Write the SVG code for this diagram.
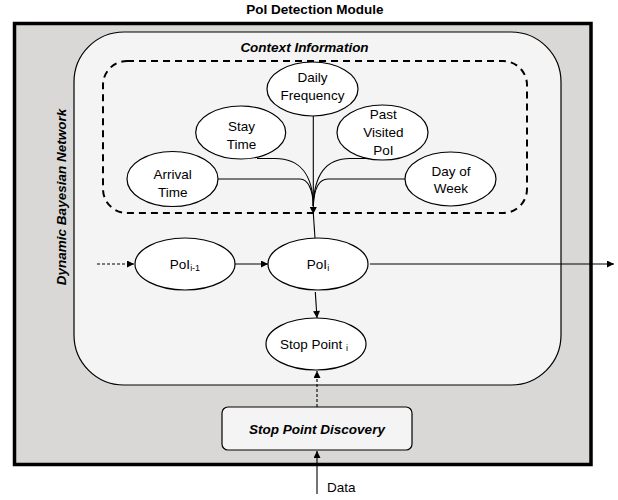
<svg xmlns="http://www.w3.org/2000/svg" width="618" height="500" viewBox="0 0 618 500">
<defs>
<style>
.t{font-family:"Liberation Sans",Arial,sans-serif;font-size:13.5px;fill:#000;text-anchor:middle}
.bi{font-weight:bold;font-style:italic}
.b{font-weight:bold}
.el{fill:#fff;stroke:#000;stroke-width:1.2}
.ln{fill:none;stroke:#000;stroke-width:1.1}
.sub{font-size:9px}
</style>
<marker id="ah" viewBox="0 0 10 10" refX="10" refY="5" markerWidth="8" markerHeight="7" markerUnits="userSpaceOnUse" orient="auto">
<path d="M0,0 L10,5 L0,10 z" fill="#000"/>
</marker>
</defs>
<rect width="618" height="500" fill="#fff"/>
<text class="t b" x="315" y="14" font-size="13">PoI Detection Module</text>
<g id="module">
<rect x="14.5" y="23.5" width="576.5" height="441" fill="#d9d8d6" stroke="#000" stroke-width="3.5"/>
</g>
<g id="dbn">
<rect x="74" y="32" width="487" height="353" rx="50" ry="50" fill="#f4f4f4" stroke="#000" stroke-width="1.2"/>
<text class="t bi" transform="translate(66,197) rotate(-90)" x="0" y="0">Dynamic Bayesian Network</text>
</g>
<g id="context">
<rect x="103" y="61" width="424" height="152" rx="24" ry="24" fill="none" stroke="#000" stroke-width="2" stroke-dasharray="7 5"/>
<text class="t bi" x="304.5" y="52">Context Information</text>
</g>
<g id="connectors">
<path class="ln" d="M257 158.5 H275 C300 158.5 313 175 313.3 206"/>
<path class="ln" d="M218 179 H300 C308 179 313 190 313.3 206"/>
<path class="ln" d="M371 158.5 H350 C326 158.5 314 175 313.3 206"/>
<path class="ln" d="M406 179 H328 C318 179 314 190 313.3 206"/>
<path class="ln" d="M313.3 116 V214" marker-end="url(#ah)"/>
<path class="ln" d="M313.3 213 L315 238"/>
<path class="ln" d="M97 264 H134" stroke-dasharray="3 2" marker-end="url(#ah)"/>
<path class="ln" d="M235 264 H268" stroke="#333" marker-end="url(#ah)"/>
<path class="ln" d="M370 264 H614" stroke="#333" marker-end="url(#ah)"/>
<path class="ln" d="M315.3 292 L317 318" marker-end="url(#ah)"/>
<path class="ln" d="M317 407 V371" stroke="#333" stroke-dasharray="3 2" marker-end="url(#ah)"/>
<path class="ln" d="M317 494 V451" marker-end="url(#ah)"/>
</g>
<g id="daily-frequency">
<ellipse class="el" cx="312.5" cy="89" rx="45.5" ry="27"/>
<text class="t" x="312.5" y="82">Daily</text>
<text class="t" x="312.5" y="99.5">Frequency</text>
</g>
<g id="stay-time">
<ellipse class="el" cx="240.7" cy="132.5" rx="45" ry="26.5"/>
<text class="t" x="241.5" y="131">Stay</text>
<text class="t" x="241.5" y="148.5">Time</text>
</g>
<g id="arrival-time">
<ellipse class="el" cx="172.5" cy="179" rx="45.5" ry="27.5"/>
<text class="t" x="172.7" y="179">Arrival</text>
<text class="t" x="172.7" y="196.5">Time</text>
</g>
<g id="past-visited-poi">
<ellipse class="el" cx="382.5" cy="132.5" rx="45.5" ry="27.5"/>
<text class="t" x="383.3" y="118.5">Past</text>
<text class="t" x="383.3" y="136.7">Visited</text>
<text class="t" x="383.3" y="155">PoI</text>
</g>
<g id="day-of-week">
<ellipse class="el" cx="450.5" cy="179" rx="45.5" ry="27"/>
<text class="t" x="451" y="175.7">Day of</text>
<text class="t" x="451" y="193.3">Week</text>
</g>
<g id="poi-prev">
<ellipse class="el" cx="185" cy="264" rx="50" ry="26"/>
<text class="t" x="185" y="269">PoI<tspan class="sub" dy="2">i-1</tspan></text>
</g>
<g id="poi-i">
<ellipse class="el" cx="318" cy="264" rx="50" ry="26"/>
<text class="t" x="318" y="269">PoI<tspan class="sub" dy="2">i</tspan></text>
</g>
<g id="stop-point-i">
<ellipse class="el" cx="316" cy="344" rx="50" ry="26"/>
<text class="t" x="314" y="349">Stop Point <tspan class="sub" dy="2">i</tspan></text>
</g>
<g id="stop-point-discovery">
<rect x="222" y="407" width="190" height="43" rx="6" ry="6" fill="#f4f4f4" stroke="#000" stroke-width="1.2"/>
<text class="t bi" x="317" y="433.5" font-size="13">Stop Point Discovery</text>
</g>
<g id="data">
<text class="t" x="327" y="492" style="text-anchor:start">Data</text>
</g>
</svg>
